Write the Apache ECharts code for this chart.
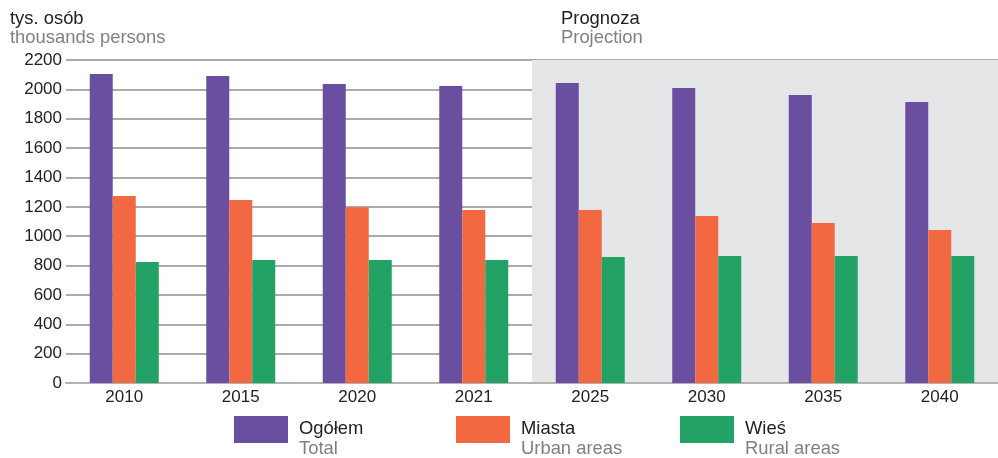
<!DOCTYPE html>
<html><head><meta charset="utf-8">
<script src="https://cdn.jsdelivr.net/npm/echarts@6/dist/echarts.min.js"></script>
<style>html,body{margin:0;padding:0;background:#fff}#c{width:998px;height:458px}</style>
</head><body><div id="c"></div>
<script>
const years = ['2010','2015','2020','2021','2025','2030','2035','2040'];
const total = [2105, 2091, 2037, 2023, 2044, 2010, 1962, 1914];
const urban = [1274, 1247, 1197, 1178, 1178, 1138, 1090, 1042];
const rural = [824, 838, 838, 838, 858, 865, 865, 865];
const yTicks = [0, 200, 400, 600, 800, 1000, 1200, 1400, 1600, 1800, 2000, 2200];
const projectionStart = '2025';
const seriesNames = ['Ogółem', 'Miasta', 'Wieś'];
const seriesNamesEn = ['Total', 'Urban areas', 'Rural areas'];

const font = 'Liberation Sans, Arial, sans-serif';
const colors = ['#6a4fa0', '#f26841', '#22a365'];
const projIdx = years.indexOf(projectionStart);
const areaColors = years.map((y, i) => i >= projIdx ? '#e5e6e8' : 'rgba(255,255,255,0)');

const chart = echarts.init(document.getElementById('c'));
const mk = (name, data, i) => ({
  name, type: 'bar', data, barWidth: 23, barGap: '0%',
  itemStyle: { color: colors[i] }, silent: true
});
const richTitle = {
  a: { fontFamily: font, fontSize: 18.4, fontWeight: 'normal', color: '#222', lineHeight: 19 },
  b: { fontFamily: font, fontSize: 18.4, fontWeight: 'normal', color: '#808080', lineHeight: 19 }
};
// custom two-line legend
const legendX = [234, 456, 680];
const legendGraphics = [];
seriesNames.forEach((n, i) => {
  legendGraphics.push({ type: 'rect', left: legendX[i], top: 416, shape: { width: 54, height: 27 }, style: { fill: colors[i] } });
  legendGraphics.push({ type: 'text', left: legendX[i] + 65, top: 420, style: { text: n, fill: '#222', font: '18.4px ' + font } });
  legendGraphics.push({ type: 'text', left: legendX[i] + 65, top: 440, style: { text: seriesNamesEn[i], fill: '#808080', font: '18.4px ' + font } });
});
chart.setOption({
  animation: false,
  textStyle: { fontFamily: font },
  title: [
    { left: 10, top: 9, padding: 0, text: '{a|tys. osób}\n{b|thousands persons}', textStyle: { rich: richTitle } },
    { left: 561, top: 9, padding: 0, text: '{a|Prognoza}\n{b|Projection}', textStyle: { rich: richTitle } }
  ],
  graphic: legendGraphics,
  grid: { left: 66, right: 0, top: 60, bottom: 75, containLabel: false },
  xAxis: {
    type: 'category', data: years,
    axisTick: { show: false },
    axisLine: { lineStyle: { color: '#b3b3b3', width: 2 } },
    axisLabel: { fontFamily: font, fontSize: 17, color: '#222', margin: 6, interval: 0 },
    splitArea: { show: true, interval: 0, areaStyle: { color: areaColors } }
  },
  yAxis: {
    type: 'value', min: yTicks[0], max: yTicks[yTicks.length - 1], interval: yTicks[1] - yTicks[0],
    axisLine: { show: false }, axisTick: { show: false },
    axisLabel: { fontFamily: font, fontSize: 17, color: '#222', margin: 4, formatter: v => String(v) },
    splitLine: { lineStyle: { color: '#8f8f8f', width: 1.5 } }
  },
  series: [mk(seriesNames[0], total, 0), mk(seriesNames[1], urban, 1), mk(seriesNames[2], rural, 2)]
});
</script></body></html>
